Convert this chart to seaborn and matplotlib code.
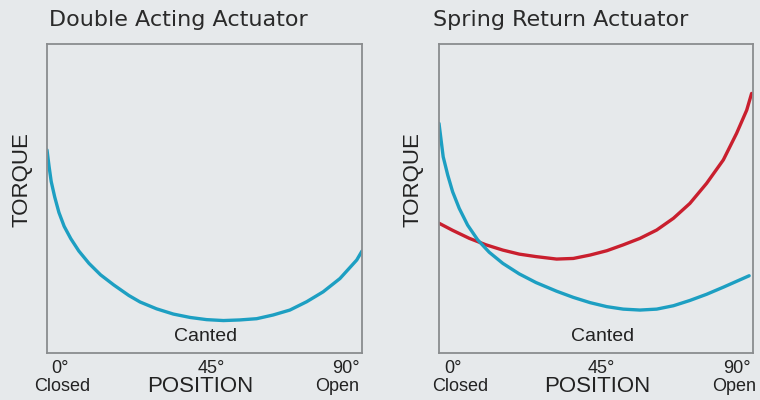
import pandas as pd
import seaborn as sns
import matplotlib.pyplot as plt

# positions (degrees) and torque (0..100 of box height)
da_pos = [0, 0.6, 1.2, 2.2, 3.4, 4.9, 6.8, 9.1, 12.0, 15.3, 19.1, 23.4, 26.6, 31.3, 36.1,
          40.9, 45.6, 50.4, 55.1, 59.9, 64.6, 69.4, 74.2, 78.9, 83.7, 88.5, 90]
da_torque = [65.7, 60.3, 55.5, 50.5, 45.5, 41.0, 37.0, 33.0, 29.0, 25.3, 22.0, 18.6, 16.5, 14.3, 12.6,
             11.5, 10.8, 10.5, 10.7, 11.1, 12.3, 13.9, 16.6, 19.8, 24.1, 30.1, 33.0]

sr_blue_pos = [0, 0.6, 1.2, 2.5, 3.9, 5.8, 8.2, 11.1, 14.4, 18.3, 23.0, 27.8, 33.7, 38.5,
               43.3, 48.1, 52.8, 57.6, 62.4, 67.2, 71.9, 76.7, 81.5, 86.3, 88.9]
sr_blue_torque = [74.3, 68.9, 63.5, 57.6, 52.2, 46.8, 41.4, 36.6, 32.6, 29.0, 25.6, 22.8, 20.0, 18.0,
                  16.3, 15.0, 14.2, 13.9, 14.2, 15.3, 17.0, 19.0, 21.3, 23.7, 25.0]

sr_red_pos = [0, 3.9, 8.7, 13.5, 18.3, 23.0, 27.8, 33.7, 38.5, 43.3, 48.1, 52.8, 57.6,
              62.4, 67.2, 71.9, 76.7, 81.5, 85.3, 88.2, 89.6]
sr_red_torque = [42.0, 39.7, 37.1, 35.0, 33.3, 32.0, 31.2, 30.4, 30.6, 31.7, 33.1, 35.0, 37.1,
                 39.8, 43.6, 48.4, 54.9, 62.5, 71.1, 78.6, 84.0]

titles = ["Double Acting Actuator", "Spring Return Actuator"]

bg = "#e6e9eb"
blue = "#1d9fc2"
red = "#c91f2e"

sns.set_theme(style="white")
plt.rcParams['font.family'] = ['Liberation Sans', 'DejaVu Sans']

fig = plt.figure(figsize=(7.6, 4), dpi=100, facecolor=bg)
ax1 = fig.add_axes([47 / 760, 47 / 400, 315 / 760, 309 / 400])
ax2 = fig.add_axes([439 / 760, 47 / 400, 314 / 760, 309 / 400])

sns.lineplot(x=da_pos, y=da_torque, ax=ax1, color=blue, lw=2.4, sort=False, estimator=None)
sns.lineplot(x=sr_red_pos, y=sr_red_torque, ax=ax2, color=red, lw=2.4, sort=False, estimator=None)
sns.lineplot(x=sr_blue_pos, y=sr_blue_torque, ax=ax2, color=blue, lw=2.4, sort=False, estimator=None)

# label positions: (axes-fraction x) for 0°, Closed, 45°, POSITION, 90°, Open, Canted, TORQUE, title
label_x = [
    [0.041, 0.048, 0.521, 0.486, 0.949, 0.922, 0.502, -0.079, 0.006],
    [0.045, 0.067, 0.516, 0.503, 0.949, 0.940, 0.520, -0.083, -0.019],
]

for ax, title, lx in zip([ax1, ax2], titles, label_x):
    ax.set_facecolor(bg)
    ax.set_xlim(0, 90)
    ax.set_ylim(0, 100)
    ax.set_xticks([])
    ax.set_yticks([])
    ax.set_xlabel("")
    ax.set_ylabel("")
    for s in ax.spines.values():
        s.set_color("#8a8c8e")
        s.set_linewidth(1.3)
    t = ax.transAxes
    ax.text(lx[0], -0.05, "0°", transform=t, ha="center", va="center", fontsize=13, color="#222")
    ax.text(lx[1], -0.107, "Closed", transform=t, ha="center", va="center", fontsize=13, color="#222")
    ax.text(lx[2], -0.05, "45°", transform=t, ha="center", va="center", fontsize=13, color="#222")
    ax.text(lx[3], -0.107, "POSITION", transform=t, ha="center", va="center", fontsize=16, color="#222")
    ax.text(lx[4], -0.05, "90°", transform=t, ha="center", va="center", fontsize=13, color="#222")
    ax.text(lx[5], -0.107, "Open", transform=t, ha="center", va="center", fontsize=13, color="#222")
    ax.text(lx[6], 0.052, "Canted", transform=t, ha="center", va="center", fontsize=14, color="#222")
    ax.text(lx[7], 0.56, "TORQUE", transform=t, ha="center", va="center", rotation=90, fontsize=16, color="#222")
    ax.text(lx[8], 1.078, title, transform=t, ha="left", va="center", fontsize=16,
            color="#2a2a2a", family="DejaVu Sans")

fig.savefig("out.png", dpi=100, facecolor=bg)
